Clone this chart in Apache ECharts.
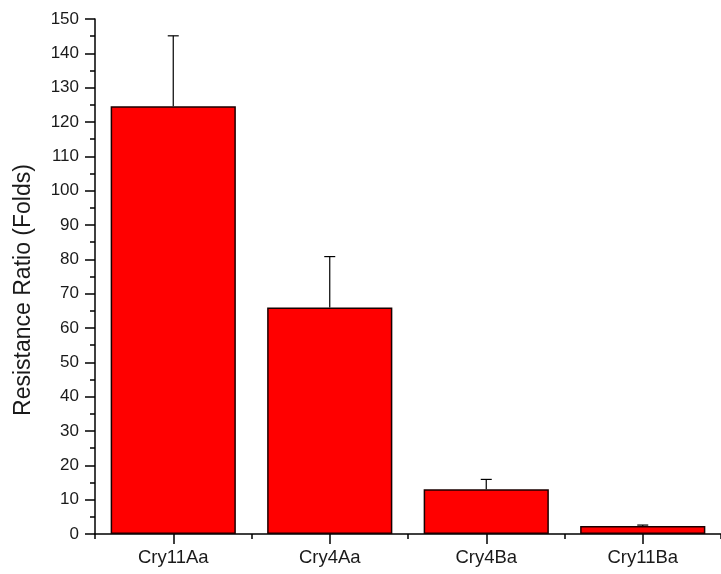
<!DOCTYPE html>
<html>
<head>
<meta charset="utf-8">
<script src="https://cdn.jsdelivr.net/npm/echarts@6/dist/echarts.min.js"></script>
<style>
  html, body { margin: 0; padding: 0; background: #fff; }
  #chart { width: 721px; height: 574px; }
</style>
</head>
<body>
<div id="chart"></div>
<script>
// Resistance ratios (mean and upper error) per toxin
var categories = ['Cry11Aa', 'Cry4Aa', 'Cry4Ba', 'Cry11Ba'];
var ratios = [124.6, 66.0, 13.0, 2.3];
var errors = [20.5, 14.8, 2.9, 0.3];
var yTicks = { min: 0, max: 150, step: 10 };
var yTitle = 'Resistance Ratio (Folds)';

var font = 'Liberation Sans, Arial, sans-serif';
var chart = echarts.init(document.getElementById('chart'), null, { renderer: 'canvas' });

var errData = categories.map(function (c, i) { return [i, ratios[i], errors[i]]; });

chart.setOption({
  animation: false,
  backgroundColor: '#ffffff',
  grid: { left: 95, top: 19, width: 634, height: 515, containLabel: false },
  graphic: [{
    type: 'text',
    x: 24,
    y: 290,
    rotation: Math.PI / 2,
    style: {
      text: yTitle,
      fill: '#1a1a1a',
      font: '23px ' + font,
      textAlign: 'center',
      textVerticalAlign: 'middle'
    }
  }],
  xAxis: [{
    type: 'category',
    data: categories,
    boundaryGap: true,
    axisLine: { show: true, lineStyle: { color: '#000', width: 1.5 } },
    axisTick: { show: true, alignWithLabel: true, length: 10, lineStyle: { color: '#000', width: 1.5 } },
    axisLabel: { color: '#1a1a1a', fontFamily: font, fontSize: 18.5, margin: 14 },
    splitLine: { show: false }
  }, {
    // short ticks on the category boundaries
    type: 'category',
    data: categories,
    position: 'bottom',
    boundaryGap: true,
    axisLine: { show: false },
    axisTick: { show: true, alignWithLabel: false, length: 5, lineStyle: { color: '#000', width: 1.5 } },
    axisLabel: { show: false },
    splitLine: { show: false }
  }],
  yAxis: {
    type: 'value',
    min: yTicks.min,
    max: yTicks.max,
    interval: yTicks.step,
    axisLine: { show: true, lineStyle: { color: '#000', width: 1.5 } },
    axisTick: { show: true, length: 10, lineStyle: { color: '#000', width: 1.5 } },
    minorTick: { show: true, splitNumber: 2, length: 5, lineStyle: { color: '#000', width: 1.5 } },
    axisLabel: { color: '#1a1a1a', fontFamily: font, fontSize: 17, margin: 16 },
    splitLine: { show: false }
  },
  series: [{
    type: 'bar',
    data: ratios,
    barWidth: '80%',
    itemStyle: { color: '#ff0000', borderColor: '#1a0000', borderWidth: 1.5 },
    z: 2
  }, {
    type: 'custom',
    data: errData,
    z: 3,
    renderItem: function (params, api) {
      var i = api.value(0);
      var lo = api.coord([i, api.value(1)]);
      var hi = api.coord([i, api.value(1) + api.value(2)]);
      var half = 5.5;
      var style = { stroke: '#000', lineWidth: 1.2 };
      return {
        type: 'group',
        children: [
          { type: 'line', shape: { x1: lo[0], y1: lo[1], x2: hi[0], y2: hi[1] }, style: style },
          { type: 'line', shape: { x1: hi[0] - half, y1: hi[1], x2: hi[0] + half, y2: hi[1] }, style: style }
        ]
      };
    }
  }]
});
</script>
</body>
</html>
